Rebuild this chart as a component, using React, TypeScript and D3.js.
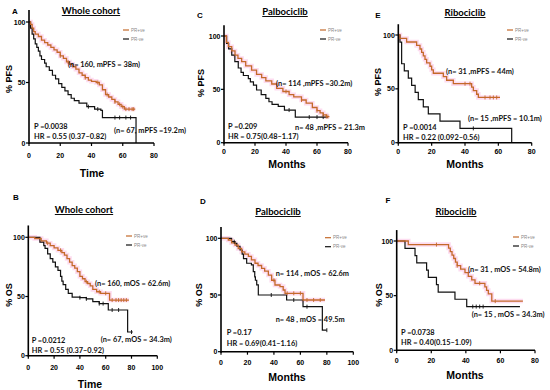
import React from "react";
import * as d3 from "d3";

type Pt = [number, number];

// ---- PFS, whole cohort (A)
const pfsAllPos: Pt[] = [[0,100],[1,98],[2,95],[3,92],[4,90],[6,88],[8,85],[10,83],[12,81],[14,79],[16,77],[18,75],[20,72],[22,70],[24,67],[26,65],[28,63],[30,61],[32,58],[34,56],[36,54],[38,52],[40,51],[43,50],[45,48],[47,44],[49,40],[51,38],[53,36],[55,34],[57,32],[59,30],[61,28],[68,28]];
const pfsAllNeg: Pt[] = [[0,100],[1,95],[2,90],[3,86],[4,82],[5,79],[6,76],[7,72],[8,69],[10,66],[11,63],[13,60],[15,56],[17,53],[19,49],[21,46],[23,43],[25,40],[27,37],[29,35],[32,33],[37,30],[42,28],[46,27],[47,21],[68.5,21],[68.5,0]];
const pfsAllPosCens = [20, 25, 36, 44, 50, 55, 58, 60, 62, 64, 66, 67];
const pfsAllNegCens = [38, 44, 55, 58, 62, 65];

// ---- OS, whole cohort (B)
const osAllPos: Pt[] = [[0,100],[5,99],[10,97],[14,95],[17,93],[20,91],[23,89],[26,87],[28,85],[30,82],[32,79],[34,76],[36,74],[38,71],[40,67],[42,65],[44,62.5],[46,61],[48,59],[50,56],[53,54],[56,52.7],[63,47],[78,47]];
const osAllNeg: Pt[] = [[0,100],[9,96],[12,93],[13,90.7],[15,86],[17,82],[19,79],[21,75],[23,72],[25,67],[26,63],[27,60],[29,56],[31,52.7],[34,49.5],[40,49],[45,48],[50,45.6],[55,44],[62,38.6],[77,20],[81,20]];
const osAllPosCens = [15, 25, 45, 55, 60, 65, 68, 70, 72, 74, 76];
const osAllNegCens = [40, 45, 55, 58, 65, 70, 80];

// ---- PFS, palbociclib (C)
const pfsPalPos: Pt[] = [[0,100],[1.5,94],[2.8,90],[5,86],[7.1,82],[9,79],[11.4,76],[14,72],[17.8,68],[21,64],[24.3,61],[27,58],[30.8,55],[34,51],[38,48],[42,45],[45,43],[50,40],[53,37],[57,33],[60,30],[62,28],[64,26],[66,24.5],[68,24.5]];
const pfsPalNeg: Pt[] = [[0,100],[1.7,93],[3,88],[5,82],[7,76],[9.2,70],[11,66],[12.5,63],[15.7,60],[17,57],[19,54],[21,49.4],[24,45],[27,41.6],[29,38.4],[31,36],[35,34],[39,30.6],[46,24],[67,24]];
const pfsPalPosCens = [40, 50, 60, 64, 66, 67];
const pfsPalNegCens = [42, 55, 60, 64];

// ---- OS, palbociclib (D)
const osPalPos: Pt[] = [[0,100],[5.5,98.5],[8,96],[10.6,94],[13,91],[15.6,88],[18,86],[20.7,84],[23,81],[25.7,78],[28,76],[30.7,73.5],[33,71],[35.8,67.6],[38.3,63],[40.8,58.8],[44.6,57.4],[47,54.4],[48.4,51.5],[62,45.6],[78.6,45.6]];
const osPalNeg: Pt[] = [[0,100],[8,97],[10.6,95.6],[12,93],[14.4,89.7],[16,86],[17,82],[19.4,78],[23,76.5],[24.4,70.6],[25.5,66],[26,63],[27,59],[28.2,50],[49.6,45.6],[62,39.7],[76.6,19],[80,19]];
const osPalPosCens = [40, 50, 55, 60, 65, 70, 75];
const osPalNegCens = [10, 38, 55, 65, 80];

// ---- PFS, ribociclib (E)
const pfsRibPos: Pt[] = [[0,100],[1,96.8],[5,93.5],[11,90.3],[13,87],[14,83.9],[15,80.6],[16,77.4],[17,74.2],[19,71],[20,67.7],[21,64.5],[27,61.3],[29,58],[33,54.8],[44,51.6],[45,48.4],[47,45],[48,42],[61,42]];
const pfsRibNeg: Pt[] = [[0,100],[1,93.3],[2,73.3],[3.6,66.7],[6,60],[8,53.3],[10.1,46.7],[12,40],[15,33.3],[18,26.7],[25,20],[37,13.3],[68,0]];
const pfsRibPosCens = [40, 43, 52, 55, 57, 59];
const pfsRibNegCens = [45];

// ---- OS, ribociclib (F)
const osRibPos: Pt[] = [[0,100],[6.7,96.7],[30,93.5],[31,90.3],[32,87],[33,84],[34,80.6],[35,77.4],[37,74.2],[39.5,71],[41.4,67.7],[43.4,64.5],[45.3,61.3],[51,58],[52,54.8],[53,51.6],[55,45],[73,45]];
const osRibNeg: Pt[] = [[0,100],[4.8,93.3],[10.6,86.7],[11.6,80],[17.3,73.3],[18.3,66.7],[23,60],[24,53.3],[33.7,46.7],[40.5,40],[71.3,40]];
const osRibPosCens = [23, 35, 48, 57];
const osRibNegCens = [44, 46, 48, 50];

const yTicks = [0, 50, 100];
const legendLabels = ["PR+ve", "PR-ve"];

const ORANGE = "#c4692a";
const PINK = "#fbbfe3";
const TXT = "Lato, 'Open Sans', sans-serif";
const TICK = "'Liberation Sans', Arial, sans-serif";

type Note = { t: string; x: number; y: number };
type Cfg = {
  letter: string; lx: number; ly: number;
  title: string; tx: number; ty: number;
  yLabel: string; ylx: number; yly: number;
  xLabel: string; xlx: number; xly: number;
  xMax: number; x0: number; x1: number; y100: number; y0: number;
  tickOff: number;
  pos: Pt[]; neg: Pt[]; posC: number[]; negC: number[];
  legX: number; legY: number;
  notes: Note[];
};

const panels: Cfg[] = [
  { letter: "A", lx: 15, ly: 14, title: "Whole cohort", tx: 91, ty: 14, yLabel: "% PFS", ylx: 12, yly: 79,
    xLabel: "Time", xlx: 92, xly: 177, xMax: 80, x0: 29, x1: 154, y100: 22, y0: 143, tickOff: 15,
    pos: pfsAllPos, neg: pfsAllNeg, posC: pfsAllPosCens, negC: pfsAllNegCens, legX: 123, legY: 30,
    notes: [{ t: "(n= 160, mPFS = 38m)", x: 68, y: 67 }, { t: "(n= 67, mPFS =19.2m)", x: 114, y: 133 },
      { t: "P =0.0038", x: 34, y: 128.5 }, { t: "HR = 0.55 (0.37–0.82)", x: 34, y: 138.5 }] },
  { letter: "C", lx: 200, ly: 18, title: "Palbociclib", tx: 285, ty: 15, yLabel: "% PFS", ylx: 204, yly: 83,
    xLabel: "Months", xlx: 287, xly: 168, xMax: 80, x0: 224, x1: 348, y100: 36, y0: 142.7, tickOff: 11,
    pos: pfsPalPos, neg: pfsPalNeg, posC: pfsPalPosCens, negC: pfsPalNegCens, legX: 320, legY: 30,
    notes: [{ t: "(n= 114 ,mPFS =30.2m)", x: 276, y: 86 }, { t: "n= 48 ,mPFS = 21.3m", x: 295, y: 130 },
      { t: "P =0.209", x: 228, y: 128.5 }, { t: "HR = 0.75(0.48–1.17)", x: 228, y: 139 }] },
  { letter: "E", lx: 378, ly: 18, title: "Ribociclib", tx: 465, ty: 16, yLabel: "% PFS", ylx: 381, yly: 82,
    xLabel: "Months", xlx: 465, xly: 168, xMax: 80, x0: 398.3, x1: 531.7, y100: 35, y0: 142.7, tickOff: 11,
    pos: pfsRibPos, neg: pfsRibNeg, posC: pfsRibPosCens, negC: pfsRibNegCens, legX: 507, legY: 30,
    notes: [{ t: "(n= 31 ,mPFS = 44m)", x: 446, y: 74 }, { t: "(n= 15 ,mPFS = 10.1m)", x: 468, y: 121 },
      { t: "P =0.0014", x: 403, y: 129.5 }, { t: "HR = 0.22 (0.092–0.56)", x: 403, y: 139.5 }] },
  { letter: "B", lx: 16, ly: 200, title: "Whole cohort", tx: 84, ty: 213, yLabel: "% OS", ylx: 12, yly: 295,
    xLabel: "Time", xlx: 90, xly: 388, xMax: 100, x0: 28.3, x1: 157.3, y100: 237.3, y0: 355.7, tickOff: 14,
    pos: osAllPos, neg: osAllNeg, posC: osAllPosCens, negC: osAllNegCens, legX: 126, legY: 236,
    notes: [{ t: "(n= 160, mOS = 62.6m)", x: 95, y: 286 }, { t: "(n= 67, mOS = 34.3m)", x: 100.7, y: 342 },
      { t: "P =0.0212", x: 31.7, y: 342.5 }, { t: "HR = 0.55 (0.37–0.92)", x: 31.7, y: 352.5 }] },
  { letter: "D", lx: 203, ly: 204, title: "Palbociclib", tx: 278, ty: 215, yLabel: "% OS", ylx: 202, yly: 295,
    xLabel: "Months", xlx: 287, xly: 381, xMax: 100, x0: 221, x1: 353.3, y100: 238.3, y0: 351.7, tickOff: 13,
    pos: osPalPos, neg: osPalNeg, posC: osPalPosCens, negC: osPalNegCens, legX: 325, legY: 237.7,
    notes: [{ t: "n= 114 , mOS = 62.6m", x: 275.7, y: 276 }, { t: "n= 48 , mOS = 49.5m", x: 275.7, y: 322 },
      { t: "P =0.17", x: 226.7, y: 335 }, { t: "HR = 0.69(0.41–1.16)", x: 226.7, y: 346 }] },
  { letter: "F", lx: 388, ly: 203, title: "Ribociclib", tx: 456, ty: 215, yLabel: "% OS", ylx: 382, yly: 295,
    xLabel: "Months", xlx: 465, xly: 379, xMax: 80, x0: 396.7, x1: 535, y100: 241, y0: 350.3, tickOff: 13,
    pos: osRibPos, neg: osRibNeg, posC: osRibPosCens, negC: osRibNegCens, legX: 513, legY: 237,
    notes: [{ t: "(n= 31 , mOS = 54.8m)", x: 468, y: 272 }, { t: "(n= 15 , mOS = 34.3m)", x: 471.7, y: 317 },
      { t: "P =0.0738", x: 401, y: 334.5 }, { t: "HR = 0.40(0.15–1.09)", x: 401, y: 345 }] },
];

function survAt(data: Pt[], t: number) {
  let s = data[0][1];
  for (const [x, y] of data) if (x <= t) s = y;
  return s;
}

function Panel({ c }: { c: Cfg }) {
  const x = d3.scaleLinear().domain([0, c.xMax]).range([c.x0, c.x1]);
  const y = d3.scaleLinear().domain([0, 100]).range([c.y0, c.y100]);
  const line = d3.line<Pt>().x((d) => x(d[0])).y((d) => y(d[1])).curve(d3.curveStepAfter);
  const xTicks = d3.range(0, c.xMax + 1, 20);
  const cens = (data: Pt[], ts: number[], color: string) =>
    ts.map((t, i) => {
      const s = survAt(data, t);
      return <line key={i} x1={x(t)} x2={x(t)} y1={y(s) - 2} y2={y(s) + 2} stroke={color} strokeWidth={0.9} />;
    });
  return (
    <g>
      <text x={c.lx} y={c.ly} fontFamily={TICK} fontWeight="bold" fontSize={8} textAnchor="middle">{c.letter}</text>
      <text x={c.tx} y={c.ty} fontFamily={TXT} fontWeight="bold" fontSize={9.5} textAnchor="middle" textDecoration="underline">{c.title}</text>
      <text transform={`translate(${c.ylx},${c.yly}) rotate(-90)`} fontFamily={TICK} fontWeight="bold" fontSize={9} textAnchor="middle">{c.yLabel}</text>
      <text x={c.xlx} y={c.xly} fontFamily={"'Liberation Sans Narrow', " + TICK} fontWeight="bold" fontSize={10.5} textAnchor="middle">{c.xLabel}</text>

      {/* curves */}
      <path d={line(c.pos) ?? ""} fill="none" stroke={PINK} strokeWidth={4.5} strokeOpacity={0.55} />
      <path d={line(c.neg) ?? ""} fill="none" stroke="#111" strokeWidth={1.2} />
      <path d={line(c.pos) ?? ""} fill="none" stroke={ORANGE} strokeWidth={1.3} />
      {cens(c.neg, c.negC, "#111")}
      {cens(c.pos, c.posC, ORANGE)}

      {/* axes */}
      <line x1={c.x0} x2={c.x0} y1={y(110)} y2={c.y0 + 1} stroke="#000" strokeWidth={1.6} />
      <line x1={c.x0} x2={c.x1} y1={c.y0} y2={c.y0} stroke="#000" strokeWidth={1.6} />
      {yTicks.map((t) => (
        <g key={t}>
          <line x1={c.x0 - 3} x2={c.x0} y1={y(t)} y2={y(t)} stroke="#000" strokeWidth={1.2} />
          <text x={c.x0 - 3.5} y={y(t) + 2.5} fontFamily={TICK} fontWeight="bold" fontSize={7} textAnchor="end">{t}</text>
        </g>
      ))}
      {xTicks.map((t) => (
        <g key={t}>
          <line x1={x(t)} x2={x(t)} y1={c.y0} y2={c.y0 + 3} stroke="#000" strokeWidth={1.2} />
          <text x={x(t)} y={c.y0 + c.tickOff} fontFamily={TICK} fontWeight="bold" fontSize={7} textAnchor="middle">{t}</text>
        </g>
      ))}

      {/* legend */}
      {legendLabels.map((l, i) => (
        <g key={l}>
          <line x1={c.legX} x2={c.legX + 6} y1={c.legY + i * 9} y2={c.legY + i * 9} stroke={i === 0 ? ORANGE : "#111"} strokeWidth={1.2} />
          <text x={c.legX + 8} y={c.legY + i * 9 + 1.6} fontFamily={TICK} fontSize={4.5} fill="#888">{l}</text>
        </g>
      ))}

      {c.notes.map((n, i) => (
        <text key={i} x={n.x} y={n.y} fontFamily={TXT} fontWeight="bold" fontSize={7.4} fill="#111">{n.t}</text>
      ))}
    </g>
  );
}

export default function App() {
  return (
    <svg width={550} height={390} style={{ position: "absolute", left: 0, top: 0, background: "#fff" }}>
      {panels.map((c) => (
        <Panel key={c.letter} c={c} />
      ))}
    </svg>
  );
}
